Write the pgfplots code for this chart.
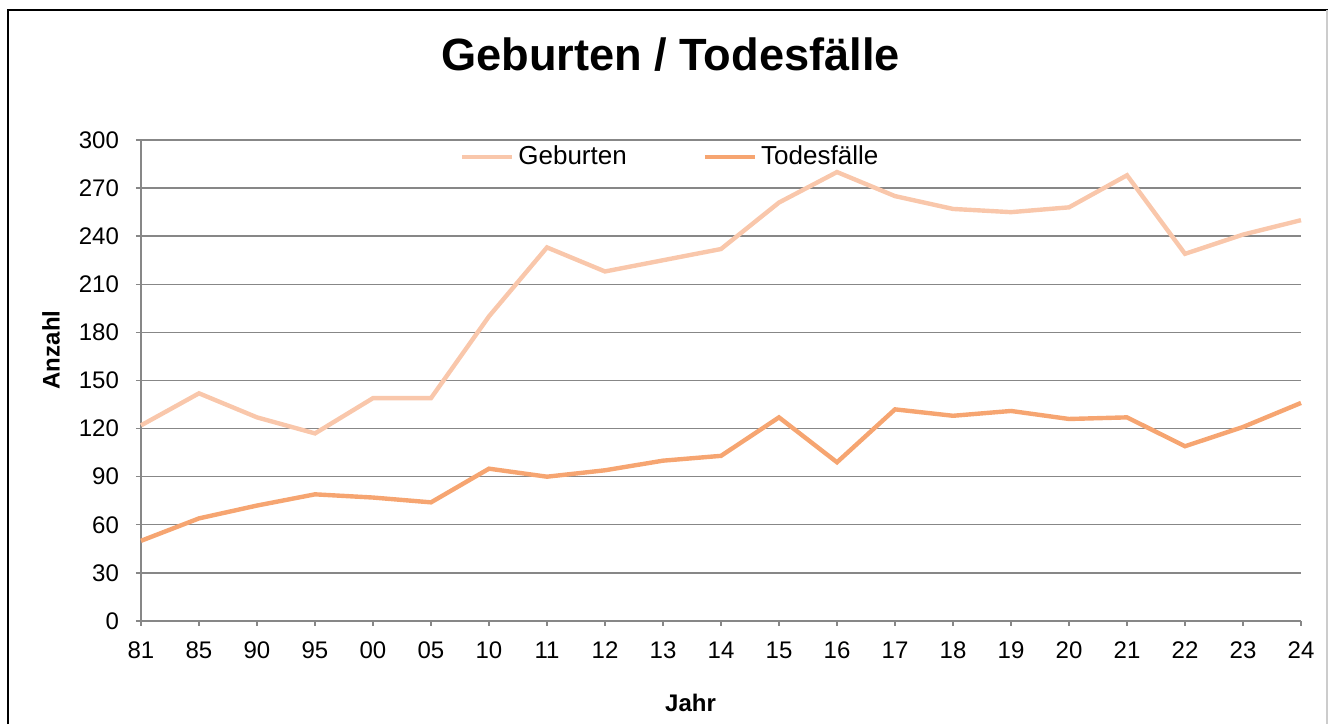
\documentclass[border=0pt]{standalone}
\usepackage{pgfplots}
\pgfplotsset{compat=1.18}
\usepackage{fontspec}
\setmainfont{Liberation Sans}
\definecolor{geb}{HTML}{F9C7AB}
\definecolor{tod}{HTML}{F6A571}
\definecolor{gridc}{HTML}{878787}
\begin{document}
\begin{tikzpicture}
\useasboundingbox (0pt,0pt) rectangle (664.5pt,362pt);
\draw[black,line width=1pt] (3.75pt,0pt) -- (3.75pt,357pt) -- (664pt,357pt);
\draw[black!20,line width=0.6pt] (663.5pt,357pt) -- (663.5pt,0pt);
\node[font=\fontsize{22.6}{26}\selectfont\bfseries] at (335.25pt,334.5pt) {Geburten / Todesfälle};
\node[font=\fontsize{12}{14}\selectfont\bfseries,rotate=90] at (25.5pt,187pt) {Anzahl};
\node[font=\fontsize{12}{14}\selectfont\bfseries] at (345.25pt,10.5pt) {Jahr};
\begin{axis}[
  at={(70.5pt,51.5pt)}, anchor=south west,
  scale only axis, width=580pt, height=240.5pt,
  xmin=0, xmax=20, ymin=0, ymax=300,
  xtick={0,...,20},
  xticklabels={81,85,90,95,00,05,10,11,12,13,14,15,16,17,18,19,20,21,22,23,24},
  ytick={0,30,...,300},
  tick align=outside,
  major tick length=2.5pt,
  tick style={gridc,line width=0.7pt},
  axis line style={gridc,line width=0.7pt},
  axis x line*=bottom, axis y line*=left,
  ymajorgrids, grid style={gridc,line width=0.7pt},
  /pgf/number format/assume math mode=true,
  ticklabel style={font=\fontsize{12}{14}\selectfont},
  xticklabel style={yshift=-4.5pt},
  yticklabel style={xshift=-5pt},
  legend columns=2,
  legend style={at={(0.457,0.965)}, anchor=center, draw=none, fill=none,
    font=\fontsize{13}{15}\selectfont, inner sep=0pt,
    /tikz/every even column/.append style={column sep=36pt},
    nodes={inner sep=2pt}},
  legend image code/.code={\draw[#1,line width=2.2pt] (0pt,0pt) -- (25pt,0pt);},
  clip=false,
]
\addplot[geb, line width=2.2pt] coordinates {
(0,122) (1,142) (2,127) (3,117) (4,139) (5,139) (6,190) (7,233) (8,218) (9,225)
(10,232) (11,261) (12,280) (13,265) (14,257) (15,255) (16,258) (17,278) (18,229) (19,241) (20,250)};
\addlegendentry{Geburten}
\addplot[tod, line width=2.2pt] coordinates {
(0,50) (1,64) (2,72) (3,79) (4,77) (5,74) (6,95) (7,90) (8,94) (9,100)
(10,103) (11,127) (12,99) (13,132) (14,128) (15,131) (16,126) (17,127) (18,109) (19,121) (20,136)};
\addlegendentry{Todesfälle}
\end{axis}
\end{tikzpicture}
\end{document}
